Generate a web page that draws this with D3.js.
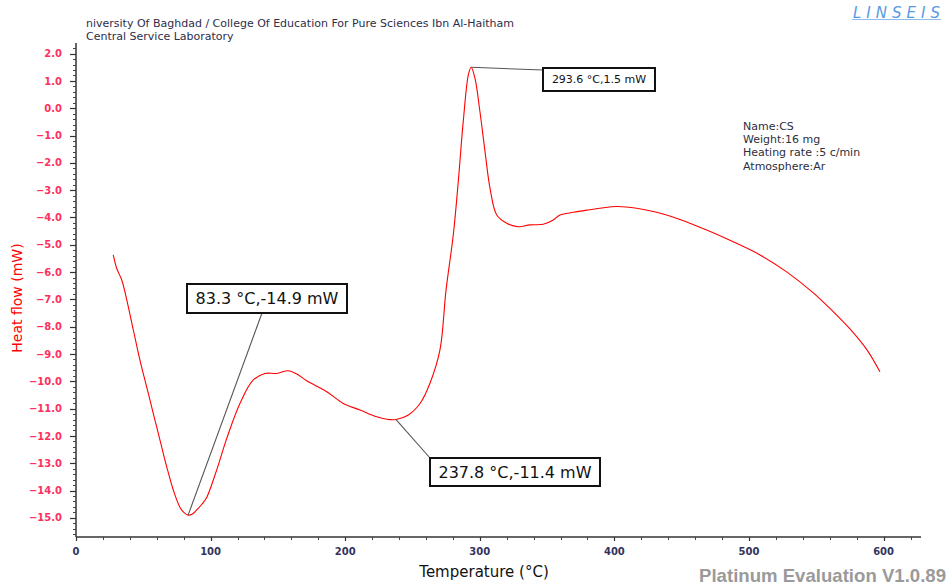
<!DOCTYPE html>
<html>
<head>
<meta charset="utf-8">
<script src="https://cdn.jsdelivr.net/npm/d3@7"></script>
<style>
  html, body { margin: 0; padding: 0; background: #fff; }
  svg { display: block; }
</style>
</head>
<body>
<svg id="chart" width="949" height="585"></svg>
<script>
// DSC heat-flow trace: temperature (°C) vs heat flow (mW)
const temperature = [27.7, 30.2, 34.0, 37.7, 42.6, 47.5, 52.5, 57.4, 62.4, 67.4, 72.3, 77.3, 80.3, 83.3,
  86.5, 89.7, 93.5, 97.1, 104.5, 112.0, 121.8, 131.7, 140.4, 149.1, 157.7, 164.0, 171.4, 186.3, 198.6,
  211.0, 223.4, 230.8, 237.8, 246.9, 255.6, 263.0, 270.4, 274.9, 280.3, 284.0, 287.7, 291.5, 293.6,
  296.4, 300.1, 303.9, 307.6, 312.6, 320.0, 328.6, 337.3, 347.2, 354.6, 359.6, 369.5, 379.4, 389.3,
  401.7, 416.6, 431.4, 448.7, 468.6, 488.3, 508.2, 528.0, 547.8, 562.6, 575.0, 587.4, 597.3];
const heatFlow = [-5.37, -5.86, -6.29, -7.02, -8.12, -9.22, -10.20, -11.17, -12.15, -13.13, -13.98, -14.62, -14.81, -14.9,
  -14.86, -14.71, -14.5, -14.25, -13.25, -12.09, -10.81, -9.95, -9.71, -9.71, -9.61, -9.73, -9.98, -10.38, -10.81,
  -11.05, -11.30, -11.39, -11.4, -11.23, -10.81, -10.07, -8.85, -6.67, -4.64, -2.69, -0.49, 1.22, 1.5,
  1.10, -0.12, -1.59, -2.93, -3.91, -4.21, -4.34, -4.27, -4.25, -4.09, -3.91, -3.81, -3.73, -3.66,
  -3.60, -3.66, -3.81, -4.07, -4.46, -4.89, -5.37, -5.99, -6.76, -7.45, -8.08, -8.83, -9.65];

// Peak annotations
const peakTemps = [83.3, 237.8, 293.6];
const peakFlows = [-14.9, -11.4, 1.5];
const peakLabels = ["83.3 °C,-14.9 mW", "237.8 °C,-11.4 mW", "293.6 °C,1.5 mW"];

// Axis ticks
const xMajorTicks = [0, 100, 200, 300, 400, 500, 600];
const yMajorTicks = [2, 1, 0, -1, -2, -3, -4, -5, -6, -7, -8, -9, -10, -11, -12, -13, -14, -15];

// Header and sample info
const headerLines = ["niversity Of Baghdad / College Of Education For Pure Sciences Ibn Al-Haitham",
  "Central Service Laboratory"];
const sampleInfo = ["Name:CS", "Weight:16 mg", "Heating rate :5 c/min", "Atmosphere:Ar"];

const svg = d3.select("#chart");
const font = "'DejaVu Sans', Verdana, sans-serif";

const x = d3.scaleLinear().domain([0, 627.8]).range([76, 921]);
const y = d3.scaleLinear().domain([-15.7, 2.39]).range([537, 43]);

// Header text
svg.selectAll("text.header").data(headerLines).join("text")
  .attr("class", "header")
  .attr("x", 86).attr("y", (d, i) => 27 + i * 13)
  .attr("font-family", font).attr("font-size", 11)
  .attr("fill", "#2e2e4a")
  .text(d => d);

// Logo
svg.append("text")
  .attr("x", 853).attr("y", 18)
  .attr("font-family", font).attr("font-size", 15).attr("font-style", "italic")
  .attr("textLength", 87).attr("lengthAdjust", "spacing")
  .attr("fill", "#5a9be0")
  .text("LINSEIS");
svg.append("line").attr("x1", 852).attr("x2", 941).attr("y1", 19.5).attr("y2", 19.5)
  .attr("stroke", "#8dbbea").attr("stroke-width", 1);

// Sample info
svg.selectAll("text.info").data(sampleInfo).join("text")
  .attr("class", "info")
  .attr("x", 743).attr("y", (d, i) => 130 + i * 13.2)
  .attr("font-family", font).attr("font-size", 11)
  .attr("fill", "#2e2e3e")
  .text(d => d);

// Y axis
const yAxis = svg.append("g").attr("transform", "translate(76,0)");
yAxis.append("line").attr("x1", 0).attr("x2", 0).attr("y1", 43).attr("y2", 537)
  .attr("stroke", "#333").attr("stroke-width", 1.5);
const yMinor = d3.range(-15.6, 2.3, 0.2).map(v => +v.toFixed(1)).filter(v => Math.abs(v - Math.round(v)) > 1e-6);
yAxis.selectAll("line.minor").data(yMinor).join("line")
  .attr("class", "minor")
  .attr("x1", -3).attr("x2", 0)
  .attr("y1", d => Math.round(y(d)) + 0.5).attr("y2", d => Math.round(y(d)) + 0.5)
  .attr("stroke", "#444");
yAxis.selectAll("line.major").data(yMajorTicks).join("line")
  .attr("class", "major")
  .attr("x1", -6).attr("x2", 0)
  .attr("y1", d => Math.round(y(d)) + 0.5).attr("y2", d => Math.round(y(d)) + 0.5)
  .attr("stroke", "#333").attr("stroke-width", 1.2);
yAxis.selectAll("text").data(yMajorTicks).join("text")
  .attr("x", -14).attr("y", d => y(d))
  .attr("dy", "0.36em")
  .attr("text-anchor", "end")
  .attr("font-family", font).attr("font-size", 10).attr("font-weight", "bold")
  .attr("fill", "#ff3060")
  .text(d => d3.format(".1f")(d));

// X axis
const xAxis = svg.append("g").attr("transform", "translate(0,537)");
xAxis.append("line").attr("x1", 76).attr("x2", 921).attr("y1", 0).attr("y2", 0)
  .attr("stroke", "#333").attr("stroke-width", 1.5);
const xMinor = d3.range(20, 628, 20).filter(v => v % 100 !== 0);
xAxis.selectAll("line.minor").data(xMinor).join("line")
  .attr("class", "minor")
  .attr("x1", d => Math.round(x(d)) + 0.5).attr("x2", d => Math.round(x(d)) + 0.5)
  .attr("y1", 0).attr("y2", 3)
  .attr("stroke", "#444");
xAxis.selectAll("line.major").data(xMajorTicks).join("line")
  .attr("class", "major")
  .attr("x1", d => Math.round(x(d)) + 0.5).attr("x2", d => Math.round(x(d)) + 0.5)
  .attr("y1", 0).attr("y2", 4)
  .attr("stroke", "#333").attr("stroke-width", 1.2);
xAxis.selectAll("text").data(xMajorTicks).join("text")
  .attr("x", d => x(d)).attr("y", 14)
  .attr("dy", "0.36em")
  .attr("text-anchor", "middle")
  .attr("font-family", font).attr("font-size", 10).attr("font-weight", "bold")
  .attr("fill", "#33335c")
  .text(d => d);

// Axis titles
svg.append("text")
  .attr("transform", "translate(22,298) rotate(-90)")
  .attr("text-anchor", "middle")
  .attr("font-family", font).attr("font-size", 14)
  .attr("fill", "#ff0000")
  .text("Heat flow (mW)");
svg.append("text")
  .attr("x", 484).attr("y", 577)
  .attr("text-anchor", "middle")
  .attr("font-family", font).attr("font-size", 15)
  .attr("fill", "#111")
  .text("Temperature (°C)");

// Watermark
svg.append("text")
  .attr("x", 946).attr("y", 582)
  .attr("text-anchor", "end")
  .attr("font-family", "'Liberation Sans', Arial, sans-serif").attr("font-size", 18.6).attr("font-weight", "bold")
  .attr("fill", "#9a9a9a")
  .text("Platinum Evaluation V1.0.89");

// Heat-flow curve
const pts = temperature.map((t, i) => [t, heatFlow[i]]);
const line = d3.line().x(d => x(d[0])).y(d => y(d[1])).curve(d3.curveCatmullRom.alpha(0.5));
svg.append("path").datum(pts)
  .attr("d", line)
  .attr("fill", "none")
  .attr("stroke", "#ff0000")
  .attr("stroke-width", 1.1);

// Peak annotation boxes (box layout: left, top, width, height, font size; leader end point)
const boxes = [
  { bx: 187, by: 284, bw: 160, bh: 29, fs: 16, lx: 262, ly: 313 },
  { bx: 430, by: 458, bw: 170, bh: 28, fs: 16, lx: 430, ly: 458 },
  { bx: 543, by: 68, bw: 112, bh: 23, fs: 11, lx: 543, ly: 70 }
];
boxes.forEach((b, i) => {
  svg.append("line")
    .attr("x1", x(peakTemps[i])).attr("y1", y(peakFlows[i]))
    .attr("x2", b.lx).attr("y2", b.ly)
    .attr("stroke", "#555").attr("stroke-width", 1.1);
  svg.append("rect")
    .attr("x", b.bx).attr("y", b.by).attr("width", b.bw).attr("height", b.bh)
    .attr("fill", "#fff").attr("stroke", "#111").attr("stroke-width", 2);
  svg.append("text")
    .attr("x", b.bx + b.bw / 2).attr("y", b.by + b.bh / 2)
    .attr("dy", "0.36em")
    .attr("text-anchor", "middle")
    .attr("font-family", font).attr("font-size", b.fs)
    .attr("fill", "#111")
    .text(peakLabels[i]);
});
</script>
</body>
</html>
